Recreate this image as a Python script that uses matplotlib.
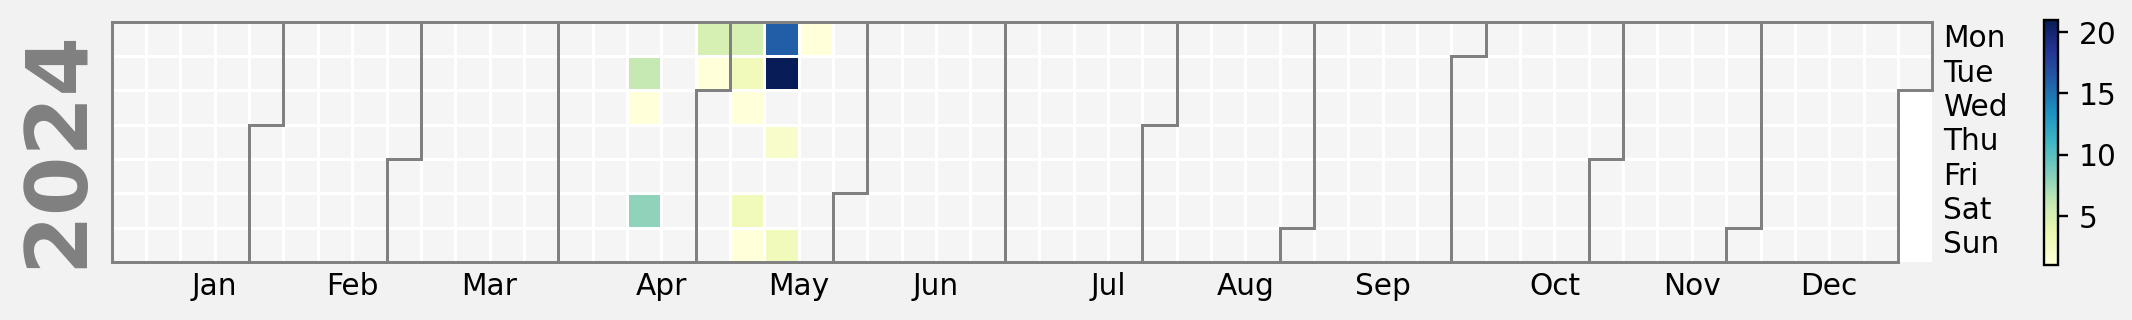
import datetime
import numpy as np
import matplotlib
matplotlib.use("Agg")
import matplotlib.pyplot as plt
from matplotlib.colors import ListedColormap
from matplotlib.patches import Polygon

# ---- data ----
year = 2024
dates = ["2024-04-16", "2024-04-17", "2024-04-20", "2024-04-29", "2024-04-30",
         "2024-05-06", "2024-05-07", "2024-05-08", "2024-05-11", "2024-05-12",
         "2024-05-13", "2024-05-14", "2024-05-16", "2024-05-19", "2024-05-20"]
values = [6, 1, 8, 5, 1,
          5, 3, 1, 3, 1,
          16, 21, 2, 3, 1]
month_labels = ["Jan", "Feb", "Mar", "Apr", "May", "Jun",
                "Jul", "Aug", "Sep", "Oct", "Nov", "Dec"]
day_labels = ["Mon", "Tue", "Wed", "Thu", "Fri", "Sat", "Sun"]

# ---- layout ----
W, H = 2132, 320
fig = plt.figure(figsize=(10, 1.501), dpi=213.2, facecolor="#f2f2f2")
ax = fig.add_axes([111.7 / W, 58 / H, 1820.6 / W, 240.5 / H])
ax.set_facecolor("white")
cax = fig.add_axes([2044.3 / W, 55 / H, 14 / W, 245 / H])

start = datetime.date(year, 1, 1)
ndays = (datetime.date(year + 1, 1, 1) - start).days
offset = start.weekday()
ncols = (ndays - 1 + offset) // 7 + 1

def cell(d):
    doy = (d - start).days
    return 6 - d.weekday(), (doy + offset) // 7

fill = np.full((7, ncols), np.nan)
data = np.full((7, ncols), np.nan)
for i in range(ndays):
    d = start + datetime.timedelta(days=i)
    r, c = cell(d)
    fill[r, c] = 1
for ds, v in zip(dates, values):
    d = datetime.date.fromisoformat(ds)
    r, c = cell(d)
    data[r, c] = v

ax.pcolormesh(np.ma.masked_invalid(fill), vmin=0, vmax=1,
              cmap=ListedColormap(["whitesmoke"]), edgecolors="white", linewidth=1)
pc = ax.pcolormesh(np.ma.masked_invalid(data), vmin=1, vmax=21, cmap="YlGnBu",
                   edgecolors="white", linewidth=1)
ax.set_xlim(0, ncols)
ax.set_ylim(0, 7)
ax.set_aspect("equal")
for s in ax.spines.values():
    s.set_visible(False)
ax.tick_params(which="both", length=0, labelsize=10)

xticks = []
for m in range(1, 13):
    first = datetime.date(year, m, 1)
    nxt = datetime.date(year + (m == 12), m % 12 + 1, 1)
    last = nxt - datetime.timedelta(days=1)
    y0 = 6 - first.weekday()
    y1 = 6 - last.weekday()
    x0 = ((first - start).days + offset) // 7
    x1 = ((last - start).days + offset) // 7
    P = [(x0, y0 + 1), (x0, 0), (x1, 0), (x1, y1), (x1 + 1, y1), (x1 + 1, 7),
         (x0 + 1, 7), (x0 + 1, y0 + 1)]
    ax.add_artist(Polygon(P, edgecolor="gray", facecolor="none", linewidth=1,
                          zorder=20, clip_on=False))
    mid = datetime.date(year, m, 15)
    xticks.append(((mid - start).days + offset) // 7 + 1)
ax.set_xticks(xticks)
ax.set_xticklabels(month_labels)
ax.yaxis.set_ticks_position("right")
ax.set_yticks([6 - i + 0.5 for i in range(7)])
ax.set_yticklabels(day_labels, va="center")

cb = fig.colorbar(pc, cax=cax)
cb.ax.tick_params(labelsize=10)

fig.text(58 / W, 172 / H, str(year), rotation=90, fontsize=29, fontweight="bold",
         color="gray", ha="center", va="center")

fig.savefig("out.png", dpi=213.2, facecolor=fig.get_facecolor())
